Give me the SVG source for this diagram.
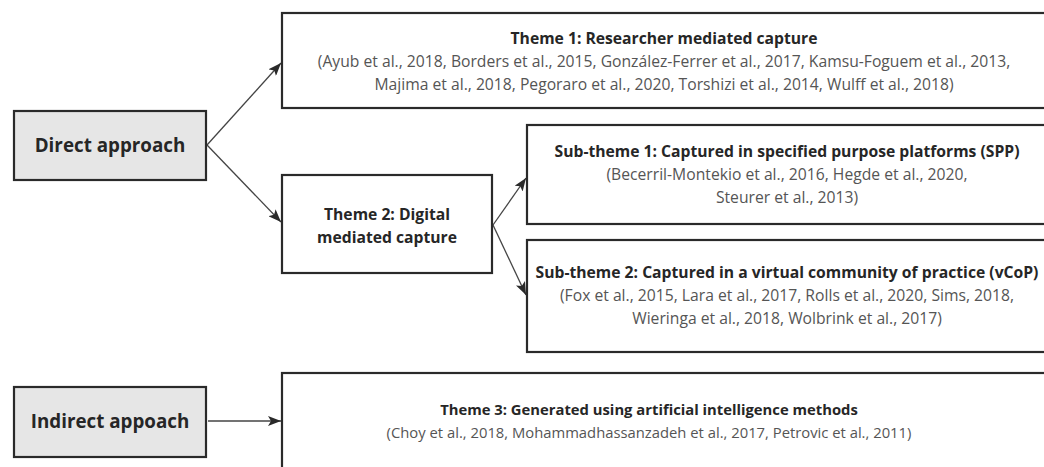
<svg xmlns="http://www.w3.org/2000/svg" width="1044" height="467" viewBox="0 0 1044 467">
<style>
.box{fill:#ffffff;stroke:#2a2a2a;stroke-width:2.2}
.grey{fill:#e6e6e6;stroke:#2a2a2a;stroke-width:2.2}
.t{font-family:"Open Sans","Liberation Sans",sans-serif;font-size:15.7px;font-weight:700;fill:#262626;text-anchor:middle}
.b{font-family:"Open Sans","Liberation Sans",sans-serif;font-size:15.7px;fill:#555555;text-anchor:middle}
.s{font-size:14.8px}
.big{font-family:"Open Sans","Liberation Sans",sans-serif;font-size:18.8px;font-weight:700;fill:#262626;text-anchor:middle}
.c{fill:none;stroke:#444444;stroke-width:1.3}
</style>
<defs>
<marker id="ah" viewBox="0 0 13 10" refX="13" refY="5" markerWidth="13" markerHeight="10" markerUnits="userSpaceOnUse" orient="auto">
<path d="M0,0 L13,5 L0,10 L3,5 Z" fill="#2a2a2a"/>
</marker>
</defs>
<g id="connectors">
<path class="c" d="M207,145 L281,63" marker-end="url(#ah)"/>
<path class="c" d="M207,145 L281,222" marker-end="url(#ah)"/>
<path class="c" d="M493,225 L526,178" marker-end="url(#ah)"/>
<path class="c" d="M493,225 L526,295" marker-end="url(#ah)"/>
<path class="c" d="M208,421 L281,421" marker-end="url(#ah)"/>
</g>
<g id="direct">
<rect class="grey" x="14" y="111" width="192" height="69"/>
<text class="big" x="110" y="152">Direct approach</text>
</g>
<g id="theme1">
<rect class="box" x="282" y="13" width="770" height="95"/>
<text class="t" x="664" y="44">Theme 1: Researcher mediated capture</text>
<text class="b" x="664" y="67">(Ayub et al., 2018, Borders et al., 2015, González-Ferrer et al., 2017, Kamsu-Foguem et al., 2013,</text>
<text class="b" x="664" y="90">Majima et al., 2018, Pegoraro et al., 2020, Torshizi et al., 2014, Wulff et al., 2018)</text>
</g>
<g id="theme2">
<rect class="box" x="282" y="175" width="210" height="98"/>
<text class="t" x="387" y="220">Theme 2: Digital</text>
<text class="t" x="387" y="243">mediated capture</text>
</g>
<g id="sub1">
<rect class="box" x="527" y="125" width="525" height="99"/>
<text class="t" x="787" y="157">Sub-theme 1: Captured in specified purpose platforms (SPP)</text>
<text class="b" x="787" y="180">(Becerril-Montekio et al., 2016, Hegde et al., 2020,</text>
<text class="b" x="787" y="203">Steurer et al., 2013)</text>
</g>
<g id="sub2">
<rect class="box" x="527" y="240" width="525" height="112"/>
<text class="t" x="787" y="278">Sub-theme 2: Captured in a virtual community of practice (vCoP)</text>
<text class="b" x="787" y="301">(Fox et al., 2015, Lara et al., 2017, Rolls et al., 2020, Sims, 2018,</text>
<text class="b" x="787" y="324">Wieringa et al., 2018, Wolbrink et al., 2017)</text>
</g>
<g id="indirect">
<rect class="grey" x="14" y="387" width="192" height="70"/>
<text class="big" x="110" y="428">Indirect appoach</text>
</g>
<g id="theme3">
<rect class="box" x="282" y="373" width="770" height="110"/>
<text class="t s" x="649" y="415">Theme 3: Generated using artificial intelligence methods</text>
<text class="b s" x="649" y="438">(Choy et al., 2018, Mohammadhassanzadeh et al., 2017, Petrovic et al., 2011)</text>
</g>
</svg>
